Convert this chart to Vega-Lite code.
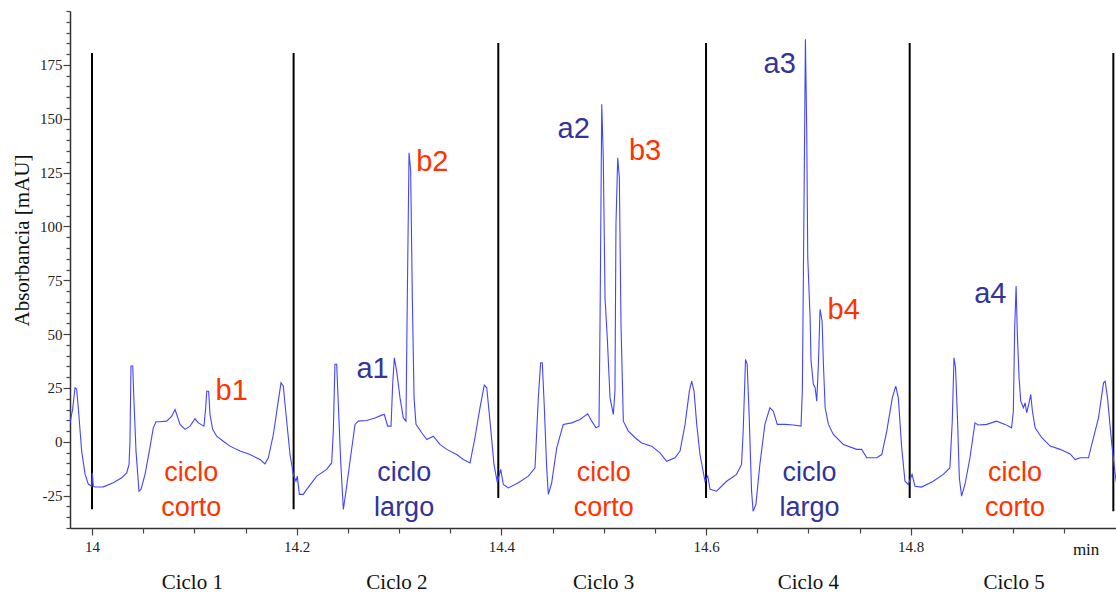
{
  "$schema": "https://vega.github.io/schema/vega-lite/v6.json",
  "width": 1046,
  "height": 517,
  "autosize": {"type": "none"},
  "padding": {"left": 70, "top": 11, "right": 0, "bottom": 65},
  "background": "white",
  "datasets": {
    "trace": [
      {"t":13.9785,"v":8.8},{"t":13.9811,"v":15.2},{"t":13.9834,"v":25.1},{"t":13.9850,"v":24.5},{"t":13.9866,"v":15.8},
      {"t":13.9899,"v":-4.3},{"t":13.9932,"v":-15.0},{"t":13.9964,"v":-19.6},{"t":13.9997,"v":-20.6},{"t":14.0003,"v":-14.4},
      {"t":14.0013,"v":-20.6},{"t":14.0029,"v":-21.0},{"t":14.0110,"v":-20.9},{"t":14.0208,"v":-19.0},{"t":14.0290,"v":-16.7},
      {"t":14.0339,"v":-14.4},{"t":14.0362,"v":-10.5},{"t":14.0371,"v":0.3},{"t":14.0381,"v":35.2},{"t":14.0398,"v":35.2},
      {"t":14.0410,"v":18.9},{"t":14.0430,"v":-4.3},{"t":14.0459,"v":-22.9},{"t":14.0479,"v":-22.1},{"t":14.0518,"v":-15.1},
      {"t":14.0560,"v":-4.3},{"t":14.0599,"v":6.5},{"t":14.0625,"v":9.3},{"t":14.0664,"v":9.3},{"t":14.0730,"v":9.6},
      {"t":14.0779,"v":11.9},{"t":14.0811,"v":15.0},{"t":14.0828,"v":12.7},{"t":14.0860,"v":8.1},{"t":14.0909,"v":5.8},
      {"t":14.0958,"v":7.3},{"t":14.1006,"v":10.7},{"t":14.1039,"v":8.8},{"t":14.1094,"v":7.3},{"t":14.1111,"v":15.8},
      {"t":14.1121,"v":23.5},{"t":14.1140,"v":23.5},{"t":14.1153,"v":12.7},{"t":14.1179,"v":5.8},{"t":14.1218,"v":2.6},
      {"t":14.1283,"v":0.3},{"t":14.1348,"v":-2.0},{"t":14.1446,"v":-4.3},{"t":14.1544,"v":-5.9},{"t":14.1642,"v":-8.2},
      {"t":14.1690,"v":-10.2},{"t":14.1723,"v":-7.4},{"t":14.1772,"v":3.4},{"t":14.1820,"v":18.9},{"t":14.1847,"v":27.4},
      {"t":14.1869,"v":25.9},{"t":14.1896,"v":12.7},{"t":14.1935,"v":-5.9},{"t":14.1967,"v":-15.1},{"t":14.1993,"v":-18.3},
      {"t":14.2006,"v":-15.9},{"t":14.2026,"v":-24.4},{"t":14.2065,"v":-24.4},{"t":14.2098,"v":-22.1},{"t":14.2196,"v":-15.9},
      {"t":14.2293,"v":-12.8},{"t":14.2342,"v":-9.8},{"t":14.2358,"v":5.0},{"t":14.2374,"v":36.0},{"t":14.2391,"v":36.0},
      {"t":14.2407,"v":17.4},{"t":14.2430,"v":-9.0},{"t":14.2456,"v":-31.4},{"t":14.2482,"v":-22.9},{"t":14.2521,"v":-9.0},
      {"t":14.2570,"v":8.1},{"t":14.2602,"v":9.6},{"t":14.2684,"v":9.9},{"t":14.2765,"v":11.1},{"t":14.2831,"v":12.4},
      {"t":14.2856,"v":12.7},{"t":14.2889,"v":7.3},{"t":14.2922,"v":7.3},{"t":14.2938,"v":26.7},{"t":14.2954,"v":39.0},
      {"t":14.2977,"v":32.8},{"t":14.3010,"v":20.4},{"t":14.3042,"v":11.1},{"t":14.3068,"v":9.6},{"t":14.3081,"v":66.9},
      {"t":14.3098,"v":134.2},{"t":14.3114,"v":125.7},{"t":14.3130,"v":66.9},{"t":14.3147,"v":20.4},{"t":14.3166,"v":8.1},
      {"t":14.3222,"v":4.2},{"t":14.3271,"v":1.1},{"t":14.3335,"v":2.6},{"t":14.3400,"v":-1.2},{"t":14.3466,"v":-3.5},
      {"t":14.3564,"v":-5.9},{"t":14.3628,"v":-8.2},{"t":14.3694,"v":-9.8},{"t":14.3742,"v":1.9},{"t":14.3791,"v":15.8},
      {"t":14.3833,"v":26.3},{"t":14.3857,"v":25.1},{"t":14.3889,"v":9.6},{"t":14.3928,"v":-10.5},{"t":14.3961,"v":-19.0},
      {"t":14.3994,"v":-12.8},{"t":14.4019,"v":-19.8},{"t":14.4068,"v":-21.4},{"t":14.4166,"v":-19.0},{"t":14.4264,"v":-15.9},
      {"t":14.4329,"v":-12.1},{"t":14.4361,"v":20.4},{"t":14.4384,"v":36.7},{"t":14.4400,"v":36.7},{"t":14.4420,"v":15.8},
      {"t":14.4443,"v":-12.1},{"t":14.4459,"v":-24.4},{"t":14.4492,"v":-19.0},{"t":14.4541,"v":-2.8},{"t":14.4605,"v":8.1},
      {"t":14.4687,"v":8.8},{"t":14.4768,"v":10.4},{"t":14.4844,"v":13.0},{"t":14.4883,"v":9.6},{"t":14.4925,"v":6.5},
      {"t":14.4954,"v":7.3},{"t":14.4964,"v":54.5},{"t":14.4981,"v":156.7},{"t":14.4996,"v":131.9},{"t":14.5013,"v":66.9},
      {"t":14.5035,"v":48.3},{"t":14.5062,"v":20.4},{"t":14.5094,"v":12.7},{"t":14.5110,"v":23.5},{"t":14.5120,"v":101.0},
      {"t":14.5137,"v":131.9},{"t":14.5153,"v":122.6},{"t":14.5169,"v":54.5},{"t":14.5192,"v":9.6},{"t":14.5241,"v":5.0},
      {"t":14.5307,"v":1.9},{"t":14.5371,"v":-0.5},{"t":14.5469,"v":-2.0},{"t":14.5550,"v":-5.1},{"t":14.5616,"v":-9.0},
      {"t":14.5697,"v":-7.4},{"t":14.5746,"v":-4.3},{"t":14.5795,"v":8.1},{"t":14.5837,"v":23.5},{"t":14.5860,"v":28.2},
      {"t":14.5883,"v":23.5},{"t":14.5909,"v":8.1},{"t":14.5941,"v":-5.9},{"t":14.5990,"v":-18.3},{"t":14.6017,"v":-15.9},
      {"t":14.6039,"v":-22.0},{"t":14.6103,"v":-22.9},{"t":14.6201,"v":-18.3},{"t":14.6298,"v":-15.1},{"t":14.6347,"v":-10.5},
      {"t":14.6363,"v":5.0},{"t":14.6386,"v":38.3},{"t":14.6402,"v":36.0},{"t":14.6421,"v":12.7},{"t":14.6445,"v":-22.9},
      {"t":14.6460,"v":-32.2},{"t":14.6487,"v":-29.1},{"t":14.6526,"v":-10.5},{"t":14.6575,"v":8.1},{"t":14.6624,"v":15.8},
      {"t":14.6657,"v":14.3},{"t":14.6696,"v":8.1},{"t":14.6772,"v":8.1},{"t":14.6853,"v":7.8},{"t":14.6928,"v":7.3},
      {"t":14.6941,"v":23.5},{"t":14.6958,"v":113.3},{"t":14.6971,"v":186.9},{"t":14.6984,"v":144.3},{"t":14.6994,"v":85.5},
      {"t":14.7017,"v":57.6},{"t":14.7026,"v":37.5},{"t":14.7049,"v":26.7},{"t":14.7066,"v":25.1},{"t":14.7082,"v":18.9},
      {"t":14.7098,"v":36.0},{"t":14.7114,"v":61.5},{"t":14.7134,"v":56.1},{"t":14.7147,"v":36.0},{"t":14.7164,"v":15.8},
      {"t":14.7196,"v":8.1},{"t":14.7244,"v":3.4},{"t":14.7342,"v":-1.2},{"t":14.7472,"v":-3.5},{"t":14.7521,"v":-3.5},
      {"t":14.7570,"v":-7.4},{"t":14.7668,"v":-7.4},{"t":14.7717,"v":-5.9},{"t":14.7766,"v":5.0},{"t":14.7820,"v":20.4},
      {"t":14.7854,"v":25.9},{"t":14.7879,"v":20.4},{"t":14.7912,"v":-2.8},{"t":14.7944,"v":-18.3},{"t":14.7977,"v":-19.8},
      {"t":14.8013,"v":-15.1},{"t":14.8042,"v":-20.6},{"t":14.8106,"v":-21.0},{"t":14.8220,"v":-18.3},{"t":14.8318,"v":-15.1},
      {"t":14.8383,"v":-12.1},{"t":14.8406,"v":9.6},{"t":14.8423,"v":39.0},{"t":14.8438,"v":34.4},{"t":14.8458,"v":9.6},
      {"t":14.8475,"v":-16.7},{"t":14.8497,"v":-25.2},{"t":14.8530,"v":-19.8},{"t":14.8579,"v":-7.4},{"t":14.8628,"v":8.8},
      {"t":14.8660,"v":7.8},{"t":14.8742,"v":8.1},{"t":14.8839,"v":9.6},{"t":14.8922,"v":8.1},{"t":14.8986,"v":6.5},
      {"t":14.9003,"v":14.3},{"t":14.9016,"v":53.0},{"t":14.9030,"v":72.3},{"t":14.9042,"v":49.9},{"t":14.9059,"v":29.7},
      {"t":14.9075,"v":18.9},{"t":14.9101,"v":15.8},{"t":14.9118,"v":18.1},{"t":14.9133,"v":13.5},{"t":14.9153,"v":17.4},
      {"t":14.9173,"v":22.0},{"t":14.9189,"v":14.3},{"t":14.9216,"v":6.5},{"t":14.9281,"v":1.9},{"t":14.9363,"v":-2.0},
      {"t":14.9460,"v":-3.5},{"t":14.9558,"v":-5.6},{"t":14.9607,"v":-8.2},{"t":14.9656,"v":-7.4},{"t":14.9737,"v":-7.4},
      {"t":14.9786,"v":1.9},{"t":14.9835,"v":11.1},{"t":14.9884,"v":27.4},{"t":14.9900,"v":28.2},{"t":14.9923,"v":20.4},
      {"t":14.9965,"v":-1.2},{"t":14.9998,"v":-15.1},{"t":15.0023,"v":-22.9}
    ],
    "rules": [
      {"t":14.0,"lo":-31.3,"hi":180.5},
      {"t":14.197,"lo":-31.3,"hi":180.5},
      {"t":14.397,"lo":-26.1,"hi":185.2},
      {"t":14.6,"lo":-26.1,"hi":185.2},
      {"t":14.799,"lo":-26.1,"hi":185.2},
      {"t":14.998,"lo":-32.2,"hi":180.5}
    ],
    "peaks": [
      {"t":14.1365,"v":19.2,"text":"b1","c":"rojo"},
      {"t":14.2741,"v":29.7,"text":"a1","c":"azul"},
      {"t":14.3325,"v":125.7,"text":"b2","c":"rojo"},
      {"t":14.4707,"v":141.2,"text":"a2","c":"azul"},
      {"t":14.5404,"v":130.8,"text":"b3","c":"rojo"},
      {"t":14.672,"v":171.4,"text":"a3","c":"azul"},
      {"t":14.7345,"v":56.9,"text":"b4","c":"rojo"},
      {"t":14.8778,"v":64.6,"text":"a4","c":"azul"}
    ],
    "cycles": [
      {"t":14.097,"v":-18.0,"text":"ciclo","c":"rojo"},
      {"t":14.097,"v":-34.3,"text":"corto","c":"rojo"},
      {"t":14.305,"v":-18.0,"text":"ciclo","c":"azul"},
      {"t":14.305,"v":-34.3,"text":"largo","c":"azul"},
      {"t":14.5,"v":-18.0,"text":"ciclo","c":"rojo"},
      {"t":14.5,"v":-34.3,"text":"corto","c":"rojo"},
      {"t":14.701,"v":-18.0,"text":"ciclo","c":"azul"},
      {"t":14.701,"v":-34.3,"text":"largo","c":"azul"},
      {"t":14.902,"v":-18.0,"text":"ciclo","c":"rojo"},
      {"t":14.902,"v":-34.3,"text":"corto","c":"rojo"}
    ],
    "bottom": [
      {"t":14.098,"v":-68.2,"text":"Ciclo 1"},
      {"t":14.298,"v":-68.2,"text":"Ciclo 2"},
      {"t":14.5,"v":-68.2,"text":"Ciclo 3"},
      {"t":14.7,"v":-68.2,"text":"Ciclo 4"},
      {"t":14.901,"v":-68.2,"text":"Ciclo 5"}
    ],
    "unit": [
      {"t":14.9714,"v":-52.6,"text":"min"}
    ]
  },
  "resolve": {"axis": {"x": "independent", "y": "independent"}},
  "layer": [
    {
      "data": {"name": "rules"},
      "mark": {"type": "rule", "color": "black", "strokeWidth": 2},
      "encoding": {
        "x": {
          "field": "t", "type": "quantitative",
          "scale": {"domain": [13.9785, 15.0006], "nice": false, "zero": false},
          "axis": {
            "values": [14, 14.2, 14.4, 14.6, 14.8],
            "labelExpr": "'' + datum.value",
            "ticks": true,
            "tickSize": 7,
            "labelOverlap": false,
            "labelPadding": 4,
            "title": null,
            "grid": false
          }
        },
        "y": {
          "field": "lo", "type": "quantitative",
          "scale": {"domain": [-40, 200], "nice": false, "zero": false},
          "axis": {
            "values": [-25, 0, 25, 50, 75, 100, 125, 150, 175],
            "labelExpr": "'' + datum.value",
            "ticks": true,
            "tickSize": 7,
            "labelOverlap": false,
            "labelPadding": 1,
            "title": "Absorbancia [mAU]",
            "titleFont": "Liberation Serif",
            "titleFontSize": 21,
            "titleFontWeight": "normal",
            "titleColor": "#111111",
            "titleAngle": -90,
            "titleX": -48,
            "titleY": 229,
            "titleAlign": "center",
            "titleBaseline": "middle",
            "grid": false
          }
        },
        "y2": {"field": "hi"}
      }
    },
    {
      "data": {"name": "rules"},
      "mark": {"type": "point", "opacity": 0},
      "encoding": {
        "x": {
          "field": "t", "type": "quantitative",
          "scale": {"domain": [13.9785, 15.0006], "nice": false, "zero": false},
          "axis": {
            "orient": "bottom",
            "values": [14.05, 14.1, 14.15, 14.25, 14.3, 14.35, 14.45, 14.5, 14.55, 14.65, 14.7, 14.75, 14.85, 14.9, 14.95],
            "labels": false,
            "domain": false,
            "ticks": true,
            "tickSize": 5,
            "title": null,
            "grid": false
          }
        },
        "y": {
          "field": "lo", "type": "quantitative",
          "scale": {"domain": [-40, 200], "nice": false, "zero": false},
          "axis": {
            "orient": "left",
            "values": [-40,-35,-30,-20,-15,-10,-5,5,10,15,20,30,35,40,45,55,60,65,70,80,85,90,95,105,110,115,120,130,135,140,145,155,160,165,170,180,185,190,195,200],
            "labels": false,
            "domain": false,
            "ticks": true,
            "tickSize": 4,
            "title": null,
            "grid": false
          }
        }
      }
    },
    {
      "data": {"name": "trace"},
      "mark": {"type": "line", "color": "#4444ff", "strokeWidth": 1.1, "clip": true},
      "encoding": {
        "x": {"field": "t", "type": "quantitative", "axis": null},
        "y": {"field": "v", "type": "quantitative", "axis": null}
      }
    },
    {
      "data": {"name": "peaks"},
      "mark": {"type": "text", "font": "Liberation Sans", "fontSize": 29, "align": "center", "baseline": "alphabetic"},
      "encoding": {
        "x": {"field": "t", "type": "quantitative", "axis": null},
        "y": {"field": "v", "type": "quantitative", "axis": null},
        "text": {"field": "text"},
        "color": {"field": "c", "type": "nominal", "scale": {"domain": ["azul", "rojo"], "range": ["#333399", "#ff3300"]}, "legend": null}
      }
    },
    {
      "data": {"name": "cycles"},
      "mark": {"type": "text", "font": "Liberation Sans", "fontSize": 27, "align": "center", "baseline": "alphabetic"},
      "encoding": {
        "x": {"field": "t", "type": "quantitative", "axis": null},
        "y": {"field": "v", "type": "quantitative", "axis": null},
        "text": {"field": "text"},
        "color": {"field": "c", "type": "nominal", "legend": null}
      }
    },
    {
      "data": {"name": "bottom"},
      "mark": {"type": "text", "font": "Liberation Serif", "fontSize": 21, "align": "center", "baseline": "alphabetic", "color": "#111111"},
      "encoding": {
        "x": {"field": "t", "type": "quantitative", "axis": null},
        "y": {"field": "v", "type": "quantitative", "axis": null},
        "text": {"field": "text"}
      }
    },
    {
      "data": {"name": "unit"},
      "mark": {"type": "text", "font": "Liberation Serif", "fontSize": 17, "align": "center", "baseline": "alphabetic", "color": "#111111"},
      "encoding": {
        "x": {"field": "t", "type": "quantitative", "axis": null},
        "y": {"field": "v", "type": "quantitative", "axis": null},
        "text": {"field": "text"}
      }
    }
  ],
  "config": {
    "view": {"stroke": null},
    "axis": {
      "domainColor": "#333333",
      "domainWidth": 1.5,
      "tickColor": "#444444",
      "tickWidth": 1.2,
      "tickOpacity": 1,
      "labelColor": "#222222",
      "labelFont": "Liberation Serif",
      "labelFontSize": 15,
      "grid": false
    }
  }
}
